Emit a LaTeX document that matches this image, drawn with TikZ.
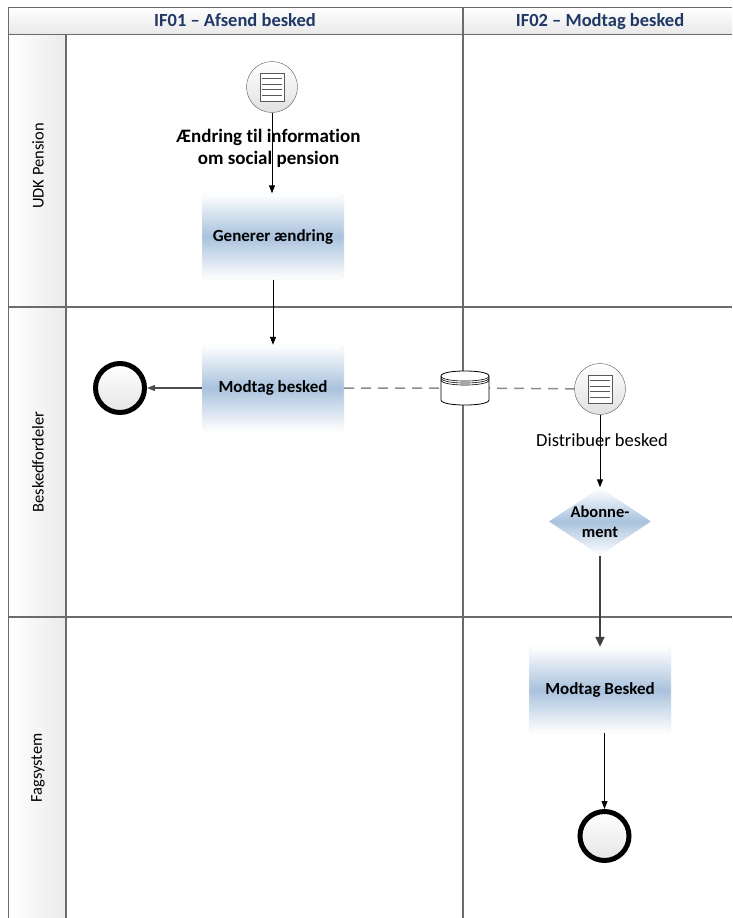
\documentclass[tikz,border=0pt]{standalone}
\usepackage{fontspec}
\setmainfont[Ligatures={TeX,NoCommon}]{Carlito}
\usetikzlibrary{shapes.geometric,arrows.meta}

\definecolor{headnavy}{HTML}{1F3864}
\definecolor{taskblue}{HTML}{A9C2DD}
\definecolor{framegray}{HTML}{6B6B6B}

\tikzset{
  frame/.style={draw=framegray, line width=1.6pt},
  task/.style={rectangle, rounded corners=5pt, minimum width=142pt, minimum height=86pt,
    top color=white, bottom color=white, middle color=taskblue, draw=black!7,
    font=\fontsize{17}{21}\selectfont\bfseries},
  msgevent/.style={circle, minimum size=51pt, draw=black!65, top color=white, bottom color=black!12,
    path picture={
      \draw[fill=white, line width=0.9pt] ([shift={(-12pt,-14pt)}]path picture bounding box.center) rectangle ++(24pt,28pt);
      \foreach \k in {1,...,4}
        \draw[line width=0.9pt] ([shift={(-10pt,14pt-\k*5.6pt)}]path picture bounding box.center) -- ++(20pt,0pt);
    }},
  endevent/.style={circle, minimum size=49pt, line width=5pt, draw=black, top color=white, bottom color=black!10},
  decision/.style={diamond, minimum width=102pt, minimum height=68pt, inner sep=0pt,
    top color=white, bottom color=white, middle color=taskblue},
  flow/.style={-{Triangle[length=8pt,width=6pt]}, line width=1pt},
  lanetext/.style={rotate=90, font=\fontsize{16.5}{20}\selectfont},
  headtext/.style={anchor=base, text=headnavy, font=\fontsize{18.5}{22}\selectfont\bfseries}
}

\begin{document}
\begin{tikzpicture}[x=1pt,y=-1pt]
  \useasboundingbox (0,0) rectangle (732,918);

  % pool header and lane column
  \shade[top color=white, bottom color=black!9] (8.5,7.5) rectangle (732,34.5);
  \shade[left color=white, right color=black!8] (8.5,34.5) rectangle (66,918);
  \draw[frame] (732,7.5) -- (8.5,7.5) -- (8.5,918);
  \draw[frame] (8.5,34.5) -- (732,34.5);
  \draw[frame] (66,34.5) -- (66,918);
  \draw[frame] (463,7.5) -- (463,918);
  \draw[frame] (8.5,307) -- (732,307);
  \draw[frame] (8.5,617) -- (732,617);

  \node[headtext] (col1) at (235,27) {IF01 -- Afsend besked};
  \node[headtext] (col2) at (600,27) {IF02 -- Modtag besked};

  \node[lanetext] (lane1) at (38,166) {UDK Pension};
  \node[lanetext] (lane2) at (38,462) {Beskedfordeler};
  \node[lanetext] (lane3) at (38,768) {Fagsystem};

  % IF01
  \node[msgevent] (start) at (272,87) {};
  \node[task] (generer) at (273,236.5) {Generer ændring};
  \node[task] (modtag) at (273,388) {Modtag besked};
  \node[endevent] (fin1) at (120,388) {};
  \draw[flow] (start) -- (start |- generer.north);
  \node[align=center, font=\fontsize{19}{22.5}\selectfont\bfseries] (startlbl) at (268.5,148.5) {Ændring til information\\om social pension};
  \draw[flow] (generer) -- (modtag);
  \draw[flow, draw=black!70, line width=1.2pt] (modtag) -- (fin1);

  % IF02
  \node[msgevent] (distr) at (600,389) {};
  \coordinate (store) at (465,388);
  \draw[dashed, dash pattern=on 10pt off 7pt, draw=black!45, line width=1.5pt] (modtag) -- (store) -- (distr);
  \filldraw[fill=white, draw=black, line width=0.8pt] (441,376) -- (441,400)
    .. controls (441,406.7) and (489,406.7) .. (489,400) -- (489,376)
    .. controls (489,369.3) and (441,369.3) .. (441,376) -- cycle;
  \foreach \d in {0,2,4}
    \draw[line width=0.6pt] (441,376+\d) .. controls (441,382.7+\d) and (489,382.7+\d) .. (489,376+\d);

  \node[decision, label={[align=center, font=\fontsize{16.5}{20}\selectfont\bfseries]center:Abonne-\\ment}] (abon) at (600,521.5) {};
  \node[task] (modtag2) at (600,690) {Modtag Besked};
  \node[endevent] (fin2) at (604.5,836) {};
  \draw[flow] (distr) -- (abon);
  \node[font=\fontsize{18.5}{22}\selectfont] (distrlbl) at (602,440) {Distribuer besked};
  \draw[flow, draw=black!75, line width=1.8pt, -{Triangle[length=10pt,width=9pt]}] (abon) -- (modtag2);
  \draw[flow] (modtag2.south -| fin2.north) -- (fin2);
\end{tikzpicture}
\end{document}
